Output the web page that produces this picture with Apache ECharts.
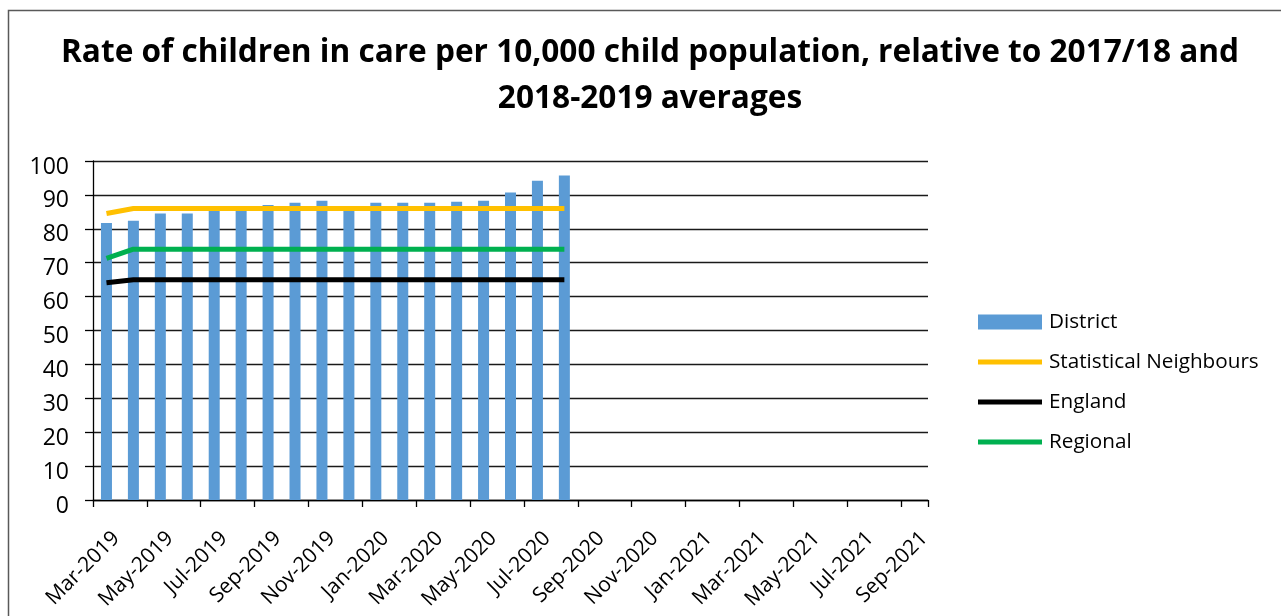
<!DOCTYPE html>
<html>
<head>
<meta charset="utf-8">
<script src="https://cdn.jsdelivr.net/npm/echarts@6/dist/echarts.min.js"></script>
<style>
  html, body { margin: 0; padding: 0; background: #fff; }
  #chart { width: 1281px; height: 616px; }
</style>
</head>
<body>
<div id="chart"></div>
<script>
// month slots on the date axis (Excel base unit = months)
const months = [
  'Mar-2019', 'Apr-2019', 'May-2019', 'Jun-2019', 'Jul-2019', 'Aug-2019', 'Sep-2019', 'Oct-2019',
  'Nov-2019', 'Dec-2019', 'Jan-2020', 'Feb-2020', 'Mar-2020', 'Apr-2020', 'May-2020', 'Jun-2020',
  'Jul-2020', 'Aug-2020', 'Sep-2020', 'Oct-2020', 'Nov-2020', 'Dec-2020', 'Jan-2021', 'Feb-2021',
  'Mar-2021', 'Apr-2021', 'May-2021', 'Jun-2021', 'Jul-2021', 'Aug-2021', 'Sep-2021'
]
const district = [81.7, 82.4, 84.5, 84.5, 85.5, 85.8, 87.0, 87.7, 88.3, 85.6, 87.7, 87.7, 87.7, 88.0, 88.3, 90.7, 94.2, 95.7]
const statNeighbours = [84.5, 86, 86, 86, 86, 86, 86, 86, 86, 86, 86, 86, 86, 86, 86, 86, 86, 86]
const england = [64.1, 65, 65, 65, 65, 65, 65, 65, 65, 65, 65, 65, 65, 65, 65, 65, 65, 65]
const regional = [71.3, 74, 74, 74, 74, 74, 74, 74, 74, 74, 74, 74, 74, 74, 74, 74, 74, 74]

// date axis: a tick every 2 months (month starts) plus the axis end
const tickMonths = [0, 2, 4, 6, 8, 10, 12, 14, 16, 18, 20, 22, 24, 26, 28, 30, 31]
// rotated labels sit just before the following month start, like Excel does
const labelShift = 0.86
const labelMonths = tickMonths.filter(m => m % 2 === 0).map(m => m + labelShift)

const font = 'Open Sans'
const lineIcon = 'path://M0,0 L64,0 L64,5 L0,5 Z'
const chart = echarts.init(document.getElementById('chart'))

chart.setOption({
  animation: false,
  backgroundColor: '#fff',
  textStyle: { fontFamily: font, color: '#000' },
  title: {
    text: 'Rate of children in care per 10,000 child population, relative to 2017/18 and\n2018-2019 averages',
    left: 645,
    top: 25,
    textAlign: 'center',
    textStyle: { fontFamily: font, fontSize: 31.6, fontWeight: 'bold', color: '#000', lineHeight: 46 }
  },
  graphic: [{
    type: 'rect',
    shape: { x: 8.5, y: 10.5, width: 1400, height: 800 },
    style: { fill: 'none', stroke: '#595959', lineWidth: 1.5 },
    silent: true
  }],
  legend: {
    orient: 'vertical',
    left: 978,
    top: 310,
    padding: 0,
    itemWidth: 64,
    itemHeight: 15,
    itemGap: 16,
    textStyle: { fontFamily: font, fontSize: 20.7, color: '#000', lineHeight: 24, padding: [0, 0, 0, 2] },
    data: [
      { name: 'District', icon: 'rect' },
      { name: 'Statistical Neighbours', icon: lineIcon },
      { name: 'England', icon: lineIcon },
      { name: 'Regional', icon: lineIcon }
    ]
  },
  grid: { left: 93, right: 353, top: 161, bottom: 116, outerBoundsMode: 'none', containLabel: false },
  xAxis: [
    {
      type: 'category',
      data: months,
      boundaryGap: true,
      position: 'top',
      axisLine: { show: false },
      axisTick: { show: false },
      axisLabel: { show: false }
    },
    {
      type: 'value',
      min: 0,
      max: months.length,
      position: 'bottom',
      splitLine: { show: false },
      axisLine: { lineStyle: { color: '#000', width: 1.3 } },
      axisTick: { show: true, customValues: tickMonths, length: 7, lineStyle: { color: '#000', width: 1.3 } },
      axisLabel: {
        customValues: labelMonths,
        formatter: (v) => months[Math.round(v) - 1],
        rotate: 45, fontSize: 21, color: '#000', fontFamily: font, margin: 35
      }
    }
  ],
  yAxis: {
    type: 'value',
    min: 0,
    max: 100,
    interval: 10,
    axisLine: { show: true, lineStyle: { color: '#000', width: 1.3 } },
    axisTick: { show: true, length: 8, lineStyle: { color: '#000', width: 1.3 } },
    axisLabel: { fontSize: 23, color: '#000', margin: 24, fontFamily: font, verticalAlign: 'top', lineHeight: 12 },
    splitLine: { lineStyle: { color: '#1a1a1a', width: 1.3 } }
  },
  series: [
    {
      name: 'District',
      type: 'bar',
      data: district,
      barWidth: 11,
      itemStyle: { color: '#5B9BD5' }
    },
    {
      name: 'Statistical Neighbours',
      type: 'line',
      data: statNeighbours,
      symbol: 'none',
      itemStyle: { color: '#FFC000' },
      lineStyle: { color: '#FFC000', width: 5 }
    },
    {
      name: 'England',
      type: 'line',
      data: england,
      symbol: 'none',
      itemStyle: { color: '#000' },
      lineStyle: { color: '#000', width: 5 }
    },
    {
      name: 'Regional',
      type: 'line',
      data: regional,
      symbol: 'none',
      itemStyle: { color: '#00B050' },
      lineStyle: { color: '#00B050', width: 5 }
    }
  ]
})
</script>
</body>
</html>
